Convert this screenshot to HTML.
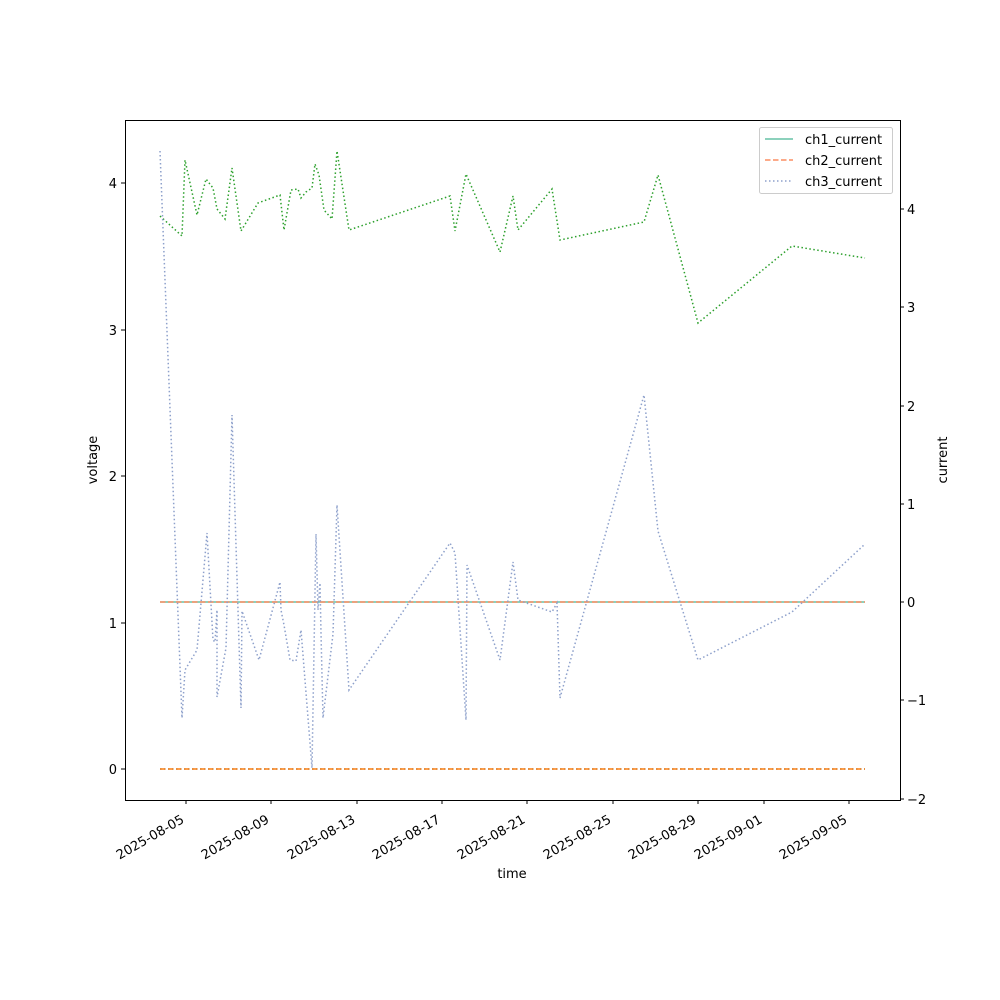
<!DOCTYPE html>
<html><head><meta charset="utf-8"><style>body{margin:0;background:#fff}svg{display:block}text{font-family:"DejaVu Sans","Liberation Sans",sans-serif;font-size:13px;fill:#000}</style></head><body>
<svg width="1000" height="1000" viewBox="0 0 1000 1000" xmlns="http://www.w3.org/2000/svg">
<rect width="1000" height="1000" fill="#fff"/>
<g fill="none" stroke-width="1.5">
<line x1="160" y1="602" x2="865" y2="602" stroke="#66c2a5"/>
<line x1="160" y1="602" x2="865" y2="602" stroke="#fc8d62" stroke-dasharray="5.5,2.5"/>
<line x1="160" y1="769" x2="865" y2="769" stroke="#1f77b4" stroke-dasharray="1.5,2.5"/>
<line x1="160" y1="769" x2="865" y2="769" stroke="#ff7f0e" stroke-dasharray="5.5,2.5"/>
<polyline stroke="#2ca02c" stroke-dasharray="1.5,2.5" points="160,216 182,236 185,160 197,215 206,179 213,188 217,209 225,219 232,168 241,231 258,203 280,195 284,230 291,190 298,189 301,198 306,192 312,188 315,164 319,175 324,210 332,219 337,151 349,230 450,196 455,231 466,174 500,252 513,196 518,230 552,189 560,240 644,222 658,175 698,323 792,246 865,258"/>
<polyline stroke="#8da0cb" stroke-dasharray="1.5,2.5" points="160,151 182,718 185,670 197,650 207,533 213,640 215,642 217,610 217,697 226,648 232,415 241,708 242,611 259,660 280,582 281,610 284,625 290,660 296,661 301,630 312,768 316,534 318,610 320,583 321,633 323,718 333,634 337,505 349,690 450,543 455,553 466,720 467,565 500,660 513,562 518,600 552,612 557,603 560,698 644,395 658,531 698,660 792,612 865,544"/>
</g>
<rect x="125.5" y="120.5" width="775" height="680" fill="none" stroke="#000" stroke-width="1"/>
<g stroke="#000" stroke-width="1">
<line x1="121" y1="769" x2="125" y2="769"/><line x1="121" y1="623" x2="125" y2="623"/><line x1="121" y1="476" x2="125" y2="476"/><line x1="121" y1="330" x2="125" y2="330"/><line x1="121" y1="183" x2="125" y2="183"/>
<line x1="900" y1="209" x2="904" y2="209"/><line x1="900" y1="307" x2="904" y2="307"/><line x1="900" y1="406" x2="904" y2="406"/><line x1="900" y1="504" x2="904" y2="504"/><line x1="900" y1="602" x2="904" y2="602"/><line x1="900" y1="700" x2="904" y2="700"/><line x1="900" y1="799" x2="904" y2="799"/>
<line x1="186" y1="800" x2="186" y2="804"/><line x1="271" y1="800" x2="271" y2="804"/><line x1="357" y1="800" x2="357" y2="804"/><line x1="442" y1="800" x2="442" y2="804"/><line x1="527" y1="800" x2="527" y2="804"/><line x1="613" y1="800" x2="613" y2="804"/><line x1="698" y1="800" x2="698" y2="804"/><line x1="764" y1="800" x2="764" y2="804"/><line x1="849" y1="800" x2="849" y2="804"/>
</g>
<g text-anchor="end">
<text x="117" y="774">0</text><text x="117" y="628">1</text><text x="117" y="481">2</text><text x="117" y="335">3</text><text x="117" y="188">4</text>
</g>
<g>
<text x="907" y="214">4</text><text x="907" y="312">3</text><text x="907" y="411">2</text><text x="907" y="509">1</text><text x="907" y="607">0</text><text x="907" y="705">−1</text><text x="907" y="804">−2</text>
</g>
<g text-anchor="end">
<text transform="translate(185,822) rotate(-30)">2025-08-05</text>
<text transform="translate(270,822) rotate(-30)">2025-08-09</text>
<text transform="translate(356,822) rotate(-30)">2025-08-13</text>
<text transform="translate(441,822) rotate(-30)">2025-08-17</text>
<text transform="translate(526,822) rotate(-30)">2025-08-21</text>
<text transform="translate(612,822) rotate(-30)">2025-08-25</text>
<text transform="translate(697,822) rotate(-30)">2025-08-29</text>
<text transform="translate(763,822) rotate(-30)">2025-09-01</text>
<text transform="translate(848,822) rotate(-30)">2025-09-05</text>
</g>
<text x="512" y="878" text-anchor="middle">time</text>
<text transform="translate(97,460) rotate(-90)" text-anchor="middle">voltage</text>
<text transform="translate(947,460) rotate(-90)" text-anchor="middle">current</text>
<rect x="759.5" y="127.5" width="133" height="66" rx="2" fill="#fff" fill-opacity="0.8" stroke="#ccc"/>
<line x1="765" y1="139" x2="793" y2="139" stroke="#66c2a5" stroke-width="1.5"/>
<line x1="765" y1="160" x2="793" y2="160" stroke="#fc8d62" stroke-width="1.5" stroke-dasharray="5.5,2.5"/>
<line x1="765" y1="181" x2="793" y2="181" stroke="#8da0cb" stroke-width="1.5" stroke-dasharray="1.5,2.5"/>
<text x="805" y="144">ch1_current</text><text x="805" y="165">ch2_current</text><text x="805" y="186">ch3_current</text>
</svg>
</body></html>
